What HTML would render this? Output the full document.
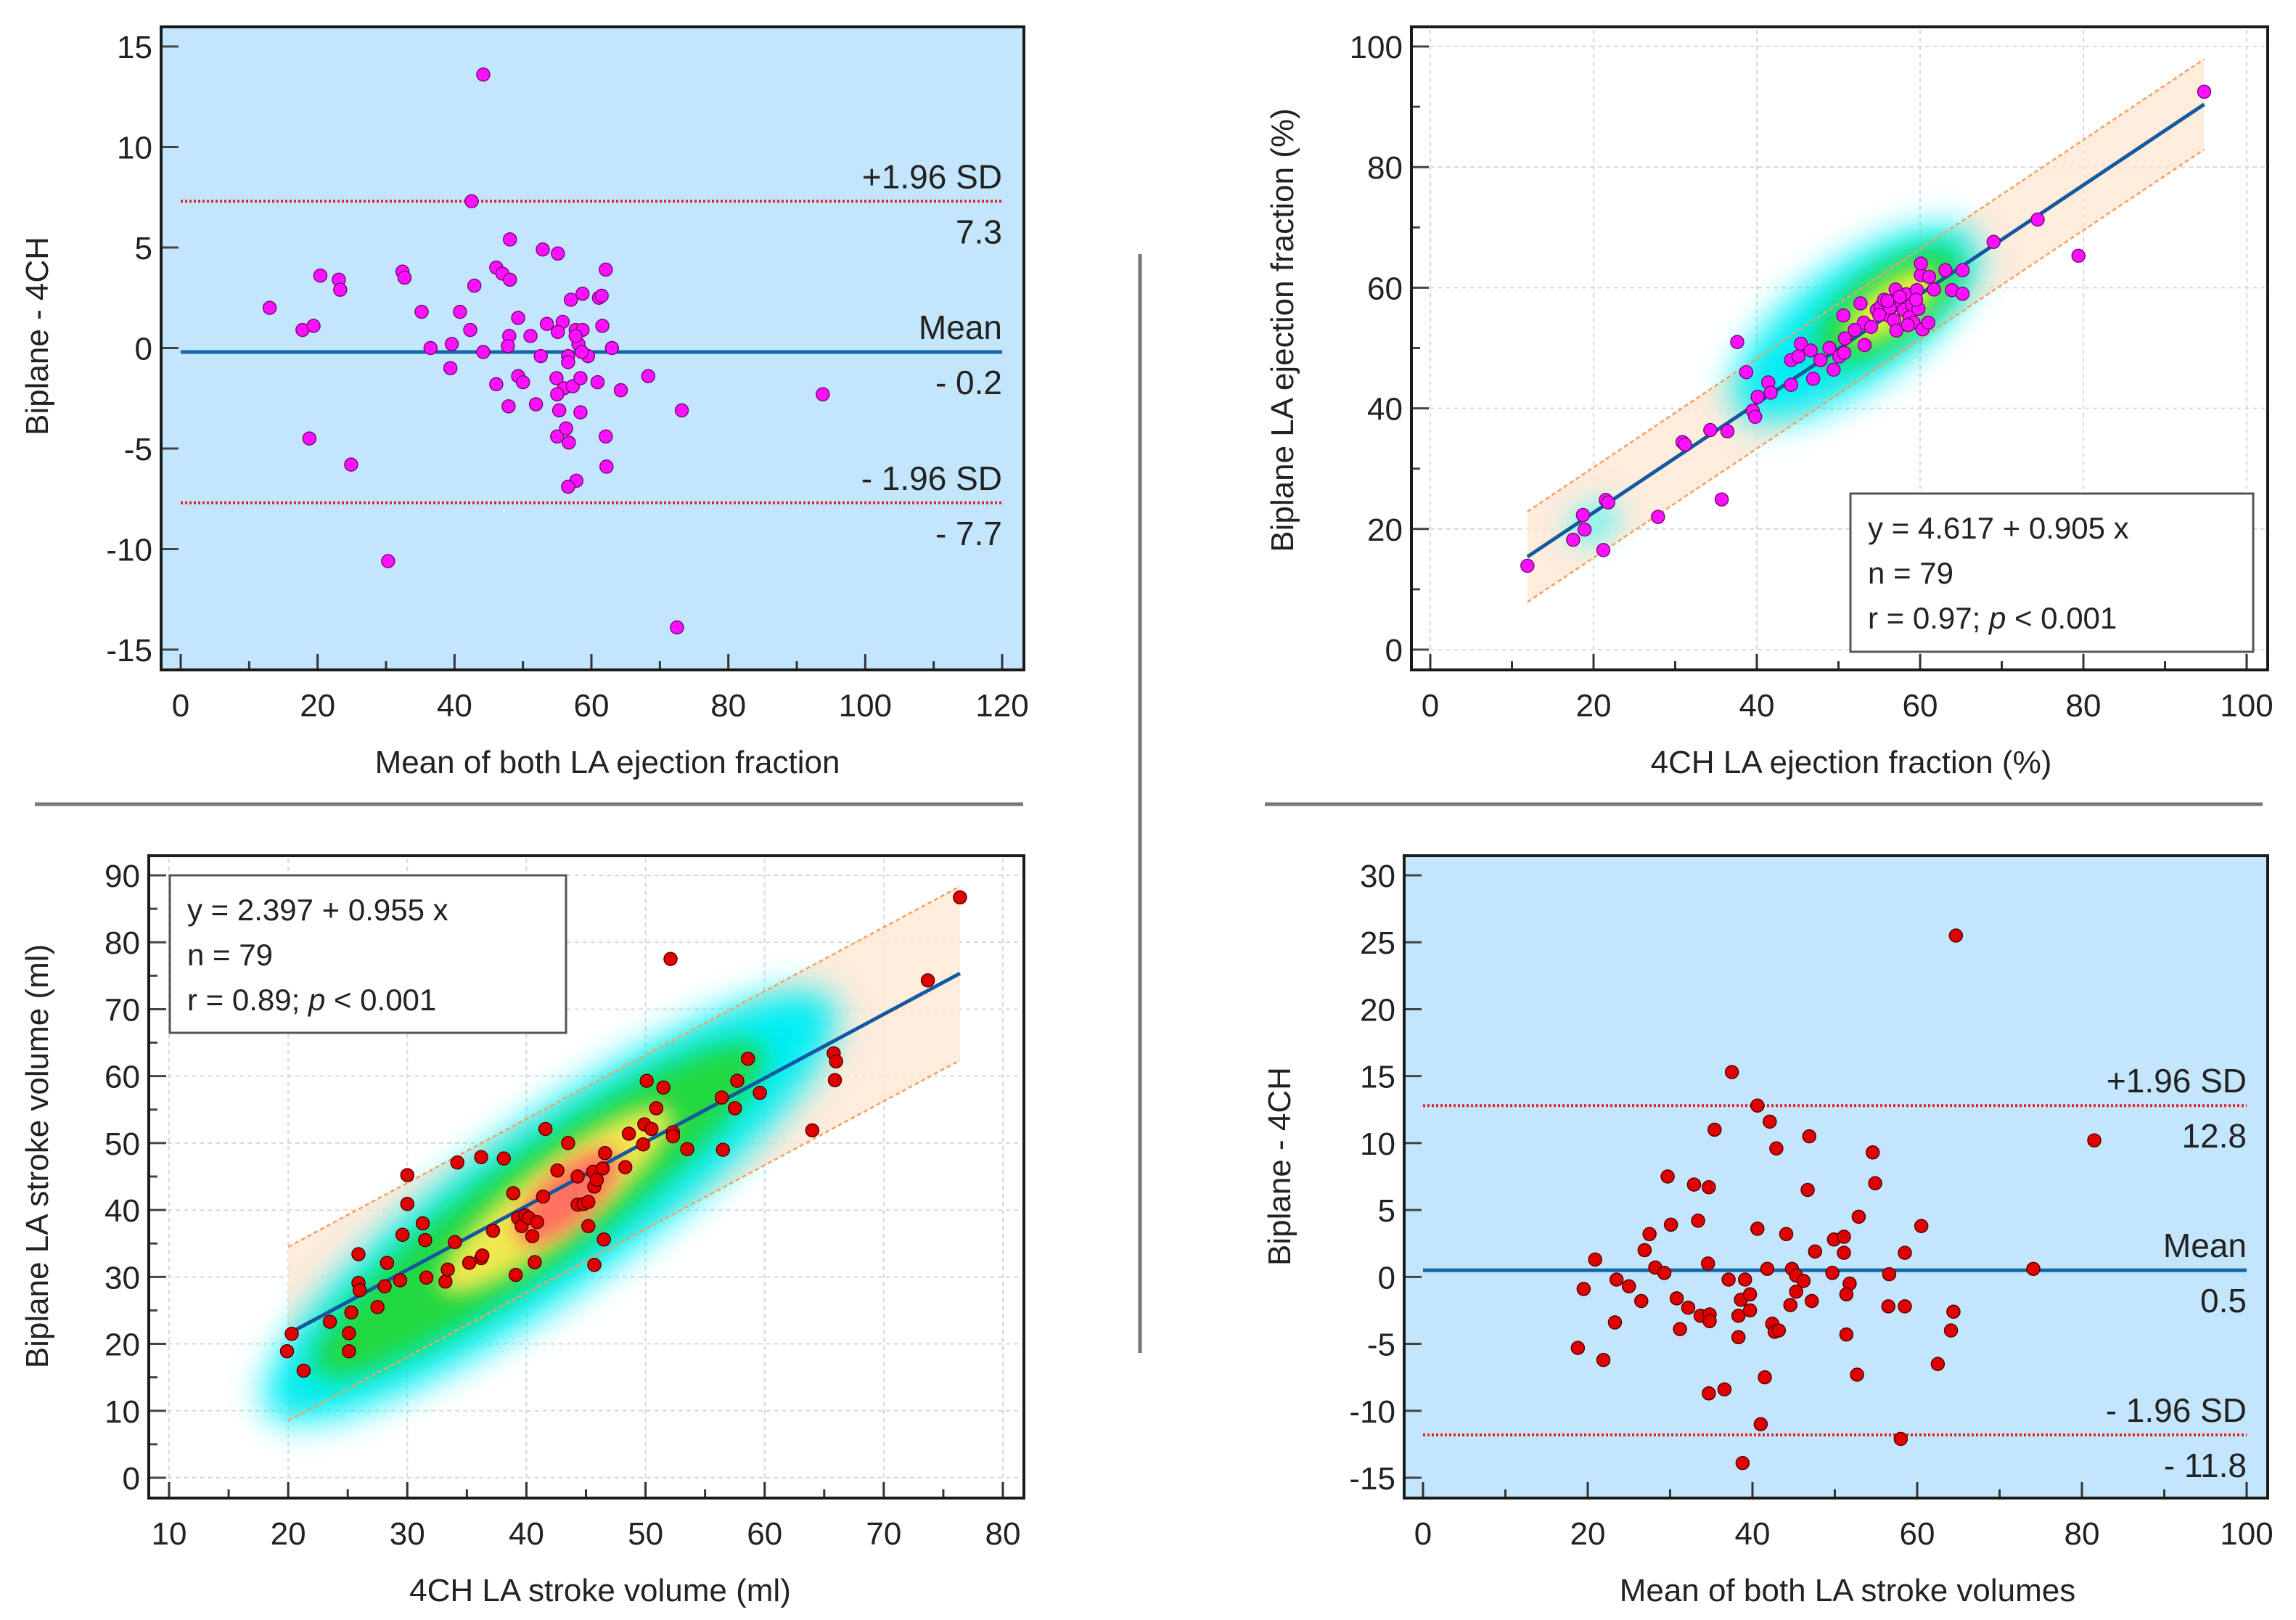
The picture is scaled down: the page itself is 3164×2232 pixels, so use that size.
<!DOCTYPE html>
<html><head><meta charset="utf-8">
<style>
html,body{margin:0;padding:0;background:#fff;}
svg{display:block;font-family:"Liberation Sans",Arial,sans-serif;}
</style></head>
<body>
<svg id="fig" width="3164" height="2232" viewBox="0 0 3164 2232" xmlns="http://www.w3.org/2000/svg">
<defs>
<filter id="blurA" x="-60%" y="-60%" width="220%" height="220%"><feGaussianBlur stdDeviation="24"/></filter>
<filter id="blurB" x="-60%" y="-60%" width="220%" height="220%"><feGaussianBlur stdDeviation="18"/></filter>
<filter id="blurC" x="-60%" y="-60%" width="220%" height="220%"><feGaussianBlur stdDeviation="14"/></filter>
</defs>
<line x1="48" y1="1108" x2="1410" y2="1108" stroke="#777" stroke-width="5"/>
<line x1="1743" y1="1108" x2="3118" y2="1108" stroke="#777" stroke-width="5"/>
<line x1="1571" y1="350" x2="1571" y2="1864" stroke="#777" stroke-width="5"/>
</svg>
<script>
// ---- Panel 1: Bland-Altman LA ejection fraction ----
const p1Mean=[44.2,42.5,48.1,52.9,55.1,20.4,23.1,23.3,32.4,32.7,42.9,46.1,47.0,48.1,62.1,13.0,17.8,19.4,35.2,40.8,42.3,57.0,58.7,61.1,61.5,49.3,51.1,53.5,55.8,55.1,61.6,57.7,58.7,48.0,36.5,39.6,44.2,47.8,58.1,63.0,57.7,52.6,56.6,56.6,59.5,58.6,39.4,46.1,49.3,50.0,54.9,56.0,57.3,58.4,60.9,64.3,68.3,47.9,51.9,55.0,55.3,58.4,73.2,93.8,18.8,24.9,55.0,56.3,56.7,62.1,62.2,57.8,56.6,30.3,72.5];
const p1Diff=[13.6,7.3,5.4,4.9,4.7,3.6,3.4,2.9,3.8,3.5,3.1,4.0,3.7,3.4,3.9,2.0,0.9,1.1,1.8,1.8,0.9,2.4,2.7,2.5,2.6,1.5,0.6,1.2,1.3,0.8,1.1,0.9,0.9,0.6,0.0,0.2,-0.2,0.1,0.2,0.0,0.6,-0.4,-0.4,-0.7,-0.4,-0.2,-1.0,-1.8,-1.4,-1.7,-1.5,-2.0,-1.9,-1.5,-1.7,-2.1,-1.4,-2.9,-2.8,-2.3,-3.1,-3.2,-3.1,-2.3,-4.5,-5.8,-4.4,-4.0,-4.7,-4.4,-5.9,-6.6,-6.9,-10.6,-13.9];
const p1Stats=[-0.2,7.3,-7.7]; // mean, upper, lower
const p1XTicks=[0,20,40,60,80,100,120];
const p1YTicks=[-15,-10,-5,0,5,10,15];

// ---- Panel 2: regression LA ejection fraction ----
const p2X=[11.9,17.5,18.7,18.9,21.2,21.5,21.8,27.9,30.9,31.2,34.3,36.4,35.7,37.6,38.7,39.5,39.8,40.1,41.4,41.7,44.2,44.2,45.1,45.4,46.6,46.9,47.8,48.9,49.4,50.1,50.7,50.8,50.6,52.7,53.1,53.2,54.7,55.2,55.6,56.1,56.3,56.8,57.0,57.1,57.7,58.0,58.3,58.7,59.0,59.2,59.6,59.8,60.1,60.1,60.3,61.0,61.1,61.7,63.1,63.9,65.2,65.2,69.0,74.4,79.4,94.8,55.0,57.5,58.5,54.0,56.0,59.5,52.0];
const p2Y=[13.9,18.2,22.3,19.9,16.5,24.8,24.4,22.0,34.4,34.0,36.4,36.2,24.9,51.0,46.0,39.6,38.6,41.9,44.3,42.6,43.9,48.0,48.6,50.7,49.6,44.9,48.0,50.0,46.4,48.6,49.2,51.6,55.4,57.4,54.2,50.5,56.3,56.9,58.0,55.4,56.7,54.6,59.7,52.9,57.6,56.3,58.9,55.1,57.2,54.2,59.6,56.5,62.1,64.0,53.1,54.2,61.8,59.7,62.9,59.6,59.0,62.9,67.6,71.3,65.3,92.5,55.5,58.5,53.8,53.5,57.8,58.0,53.0];
const p2Fit=[4.617,0.905,7.5,11.9,94.8]; // intercept, slope, band half-width, xmin, xmax
const p2Ticks=[0,20,40,60,80,100];

// ---- Panel 3: regression LA stroke volume ----
const p3X=[19.9,20.3,21.3,23.5,25.1,25.1,25.3,25.9,25.9,26.0,27.5,28.1,28.3,29.4,29.6,30.0,30.0,31.3,31.5,31.6,33.2,33.4,34.0,34.2,35.2,36.2,36.3,36.2,37.2,38.1,38.9,39.1,39.3,39.6,39.9,40.2,40.5,40.7,40.9,41.4,41.6,42.6,43.5,44.3,44.3,44.8,45.2,45.2,45.6,45.7,45.9,45.7,46.5,46.6,46.4,48.3,48.6,49.8,49.9,50.1,50.5,50.9,51.5,52.1,52.3,52.3,53.5,56.4,56.5,57.5,57.7,58.6,59.6,64.0,65.8,66.0,65.9,73.7,76.4];
const p3Y=[18.9,21.5,16.0,23.3,18.9,21.6,24.7,33.4,29.1,28.0,25.5,28.6,32.1,29.5,36.3,45.2,40.9,38.0,35.5,29.9,29.3,31.1,35.2,47.1,32.1,32.8,33.2,47.9,36.9,47.7,42.5,30.3,38.8,37.6,39.2,38.8,36.1,32.2,38.2,42.0,52.1,45.9,50.0,45.0,40.8,40.9,41.2,37.6,45.7,43.5,44.5,31.8,35.6,48.5,46.2,46.4,51.4,49.8,52.8,59.3,52.1,55.2,58.3,77.5,51.6,51.0,49.1,56.8,49.0,55.2,59.3,62.6,57.5,51.9,63.4,62.2,59.4,74.3,86.7];
const p3Fit=[2.397,0.955,13,20,76.4];
const p3XTicks=[10,20,30,40,50,60,70,80];
const p3YTicks=[0,10,20,30,40,50,60,70,80,90];

// ---- Panel 4: Bland-Altman LA stroke volume ----
const p4Mean=[64.7,37.5,40.6,42.1,35.4,46.9,42.9,81.5,54.6,29.7,32.9,34.7,54.9,46.7,52.9,33.4,30.1,40.6,60.5,27.5,44.1,49.9,51.1,26.9,47.6,51.1,58.5,20.9,34.6,41.8,28.2,29.3,44.8,49.7,56.6,74.1,45.3,19.5,23.5,25.0,37.1,39.1,46.2,51.8,26.5,30.8,32.2,38.6,39.7,45.3,47.2,51.4,56.5,58.5,23.3,33.7,34.8,34.8,38.3,39.7,44.6,64.4,42.4,42.7,43.2,31.2,38.3,51.4,64.1,18.8,21.9,62.5,52.7,41.5,34.7,36.6,41.0,58.0,38.8];
const p4Diff=[25.5,15.3,12.8,11.6,11.0,10.5,9.6,10.2,9.3,7.5,6.9,6.7,7.0,6.5,4.5,4.2,3.9,3.6,3.8,3.2,3.2,2.8,3.0,2.0,1.9,1.8,1.8,1.3,1.0,0.6,0.7,0.3,0.6,0.3,0.2,0.6,0.1,-0.9,-0.2,-0.7,-0.2,-0.2,-0.3,-0.5,-1.8,-1.6,-2.3,-1.7,-1.3,-1.1,-1.8,-1.3,-2.2,-2.2,-3.4,-2.9,-2.8,-3.3,-2.9,-2.5,-2.1,-2.6,-3.5,-4.1,-4.0,-3.9,-4.5,-4.3,-4.0,-5.3,-6.2,-6.5,-7.3,-7.5,-8.7,-8.4,-11.0,-12.1,-13.9];
const p4Stats=[0.5,12.8,-11.8];
const p4XTicks=[0,20,40,60,80,100];
const p4YTicks=[-15,-10,-5,0,5,10,15,20,25,30];

const NS='http://www.w3.org/2000/svg';
const fig=document.getElementById('fig');
function mk(tag,attrs,parent){const e=document.createElementNS(NS,tag);for(const k in attrs)e.setAttribute(k,attrs[k]);(parent||fig).appendChild(e);return e;}
function scale(d0,d1,p0,p1){return v=>p0+(v-d0)*(p1-p0)/(d1-d0);}

function axes(g,c,xt,yt,xminor,yminor){
  const xa=mk('g',{},g);
  
  
  xt.forEach((v,i)=>{
    mk('line',{x1:c.sx(v),x2:c.sx(v),y1:c.bottom,y2:c.bottom-22,stroke:'#333','stroke-width':3},xa);
    if(i<xt.length-1 && xminor){const m=(v+xt[i+1])/2;mk('line',{x1:c.sx(m),x2:c.sx(m),y1:c.bottom,y2:c.bottom-12,stroke:'#333','stroke-width':3},xa);}
    const t=mk('text',{x:c.sx(v),y:c.bottom+64,'text-anchor':'middle','font-size':44,fill:'#222'},xa);
    t.textContent=v;
    
    
  });
  const ya=mk('g',{},g);
  
  
  yt.forEach((v,i)=>{
    mk('line',{x1:c.left,x2:c.left+24,y1:c.sy(v),y2:c.sy(v),stroke:'#444','stroke-width':3},ya);
    if(i<yt.length-1 && yminor){const m=(v+yt[i+1])/2;mk('line',{x1:c.left,x2:c.left+12,y1:c.sy(m),y2:c.sy(m),stroke:'#444','stroke-width':3},ya);}
    const t=mk('text',{x:c.left-12,y:c.sy(v)+16,'text-anchor':'end','font-size':44,fill:'#222'},ya);
    t.textContent=v;
    
    
  });
  const f=mk('rect',{x:c.left,y:c.top,width:c.right-c.left,height:c.bottom-c.top,fill:'none',stroke:'#1a1a1a','stroke-width':4},g);
  
  
  const xt2=mk('text',{x:c.xtx,y:c.bottom+142,'text-anchor':'middle','font-size':44,fill:'#222'},g);
  xt2.textContent=c.xtitle;
  
  
  const yt2=mk('text',{x:0,y:0,'text-anchor':'middle','font-size':44,fill:'#222',transform:`translate(${c.ytx},${c.yty}) rotate(-90)`},g);
  yt2.textContent=c.ytitle;
  
  
}

function blandAltman(name,c,xs,ys,stats,xt,yt,col,stroke){
  const g=mk('g',{});
  
  
  const bg=mk('rect',{x:c.left,y:c.top,width:c.right-c.left,height:c.bottom-c.top,fill:'#c3e6fc'},g);
  
  
  const x0=c.sx(xt[0]), x1=c.sx(xt[xt.length-1]);
  const lines=[[stats[1],'+1.96 SD',String(stats[1]),true],[stats[0],'Mean',(stats[0]<0?'- '+Math.abs(stats[0]):String(stats[0])),false],[stats[2],'- 1.96 SD','- '+Math.abs(stats[2]),true]];
  lines.forEach(L=>{
    const y=c.sy(L[0]);
    const ln=mk('line',{x1:x0,x2:x1,y1:y,y2:y,stroke:L[3]?'#e0202a':'#1466aa','stroke-width':L[3]?4:5,'stroke-dasharray':L[3]?'3 3':''},g);
    
    
    const a=mk('text',{x:x1,y:y-18,'text-anchor':'end','font-size':46,fill:'#222'},g);
    a.textContent=L[1];
    
    
    const b=mk('text',{x:x1,y:y+58,'text-anchor':'end','font-size':46,fill:'#222'},g);
    b.textContent=L[2];
    
    
  });
  xs.forEach((v,i)=>{
    const p=mk('circle',{cx:c.sx(v),cy:c.sy(ys[i]),r:9,fill:col,stroke:stroke,'stroke-width':1.5},g);
    
    
  });
  axes(g,c,xt,yt,true,false);
}

function regression(name,c,xs,ys,fit,xt,yt,col,stroke,blobs,statsText,box,yminor){
  const g=mk('g',{});
  
  
  xt.forEach(v=>{const l=mk('line',{x1:c.sx(v),x2:c.sx(v),y1:c.top+4,y2:c.bottom-4,stroke:'#d8d8d8','stroke-width':2,'stroke-dasharray':'6 5'},g);
    
    });
  yt.forEach(v=>{const l=mk('line',{x1:c.left+4,x2:c.right-4,y1:c.sy(v),y2:c.sy(v),stroke:'#d8d8d8','stroke-width':2,'stroke-dasharray':'6 5'},g);
    
    });
  const [b0,b1,hw,xa,xb]=fit;
  const f=x=>b0+b1*x;
  const band=mk('polygon',{points:[[xa,f(xa)+hw],[xb,f(xb)+hw],[xb,f(xb)-hw],[xa,f(xa)-hw]].map(p=>c.sx(p[0])+','+c.sy(p[1])).join(' '),fill:'#fde6d2','fill-opacity':0.75},g);
  
  
  const hg=mk('g',{},g);
  
  
  blobs.forEach(b=>{
    mk('ellipse',{cx:c.sx(b[0]),cy:c.sy(b[1]),rx:b[2],ry:b[3],fill:b[4],transform:`rotate(${b[5]} ${c.sx(b[0])} ${c.sy(b[1])})`,filter:b[6]},hg);
  });
  [hw,-hw].forEach(d=>{
    const l=mk('line',{x1:c.sx(xa),y1:c.sy(f(xa)+d),x2:c.sx(xb),y2:c.sy(f(xb)+d),stroke:'#f6a060','stroke-width':2.5,'stroke-dasharray':'6 4'},g);
    
    
  });
  const rl=mk('line',{x1:c.sx(xa),y1:c.sy(f(xa)),x2:c.sx(xb),y2:c.sy(f(xb)),stroke:'#1458a0','stroke-width':5},g);
  
  
  xs.forEach((v,i)=>{
    const p=mk('circle',{cx:c.sx(v),cy:c.sy(ys[i]),r:9,fill:col,stroke:stroke,'stroke-width':1.5},g);
    
    
  });
  axes(g,c,xt,yt,true,yminor);
  const bx=mk('g',{},g);
  
  
  mk('rect',{x:box[0],y:box[1],width:box[2],height:box[3],fill:'#fff',stroke:'#555','stroke-width':3},bx);
  statsText.forEach((s,i)=>{
    const t=mk('text',{x:box[0]+24,y:box[1]+62+i*62,'font-size':42,fill:'#222'},bx);
    if(s.indexOf('p <')>=0){const parts=s.split('p');t.appendChild(document.createTextNode(parts[0]));const it=mk('tspan',{'font-style':'italic'},t);it.textContent='p';t.appendChild(document.createTextNode(parts[1]));}
    else t.textContent=s;
    
    
  });
}

// Panel geometry
const c1={left:222,right:1411,top:37,bottom:923,sx:scale(0,120,249,1381),sy:scale(15,-15,64,895),xtitle:'Mean of both LA ejection fraction',ytitle:'Biplane - 4CH',xtx:837,ytx:66,yty:463};
const c2={left:1945,right:3125,top:37,bottom:923,sx:scale(0,100,1971,3096),sy:scale(100,0,64,895),xtitle:'4CH LA ejection fraction (%)',ytitle:'Biplane LA ejection fraction (%)',xtx:2551,ytx:1782,yty:455};
const c3={left:205,right:1411,top:1179,bottom:2064,sx:scale(10,80,233,1382),sy:scale(90,0,1206,2036),xtitle:'4CH LA stroke volume (ml)',ytitle:'Biplane LA stroke volume (ml)',xtx:827,ytx:66,yty:1593};
const c4={left:1935,right:3125,top:1179,bottom:2064,sx:scale(0,100,1961,3096),sy:scale(30,-15,1206,2036),xtitle:'Mean of both LA stroke volumes',ytitle:'Biplane - 4CH',xtx:2546,ytx:1778,yty:1607};

blandAltman('bland-altman-ejection-fraction',c1,p1Mean,p1Diff,p1Stats,p1XTicks,p1YTicks,'#ff10ff','#7a0a7a');

regression('regression-ejection-fraction',c2,p2X,p2Y,p2Fit,p2Ticks,p2Ticks,'#ff10ff','#7a0a7a',
 [[52,54,200,80,'#00eef4',-36,'url(#blurA)'],[20,21,40,28,'#80f4ec',-30,'url(#blurB)'],[56,57,120,50,'#20d840',-36,'url(#blurB)'],[56.5,57,75,30,'#f2f040',-36,'url(#blurC)']],
 ['y = 4.617 + 0.905 x','n = 79','r = 0.97; p < 0.001'],[2550,680,555,218],true);

regression('regression-stroke-volume',c3,p3X,p3Y,p3Fit,p3XTicks,p3YTicks,'#e00000','#5a0000',
 [[42,40.5,480,115,'#00eef4',-36,'url(#blurA)'],[41,40,380,78,'#20d840',-36,'url(#blurB)'],[42.5,41.5,200,50,'#f0e850',-38,'url(#blurC)'],[43.5,42,90,36,'#ff7060',-42,'url(#blurC)']],
 ['y = 2.397 + 0.955 x','n = 79','r = 0.89; p < 0.001'],[234,1206,546,217],true);

blandAltman('bland-altman-stroke-volume',c4,p4Mean,p4Diff,p4Stats,p4XTicks,p4YTicks,'#e00000','#5a0000');
</script>
</body></html>
